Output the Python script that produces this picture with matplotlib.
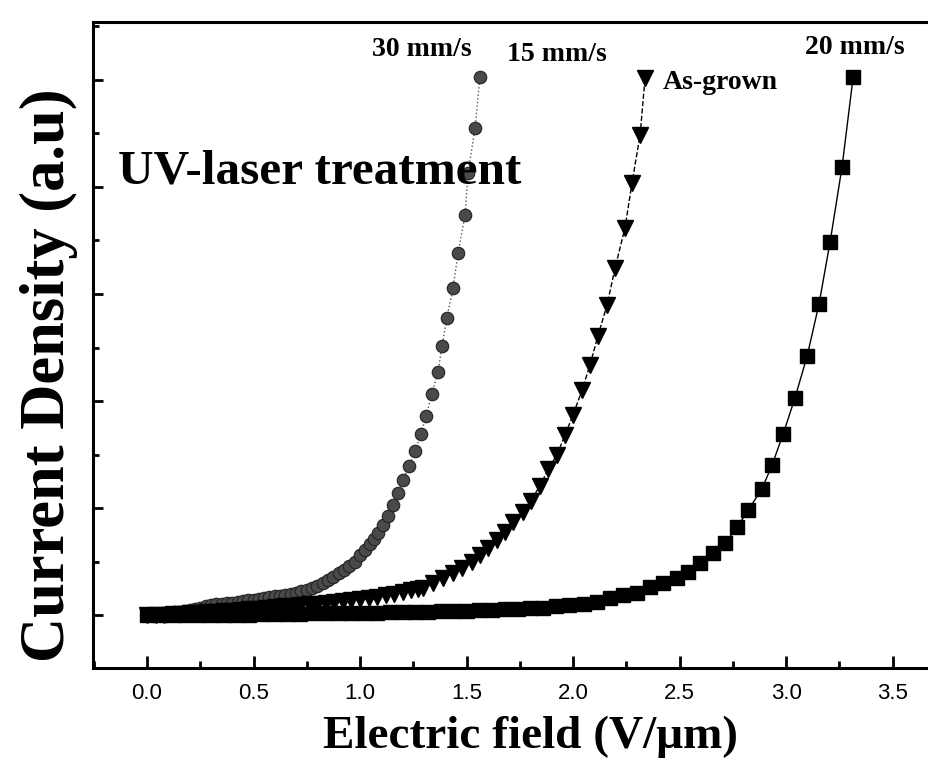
import matplotlib.pyplot as plt
from matplotlib.ticker import MultipleLocator

# 30 mm/s (circles)
circ_x = [0.0, 0.025, 0.05, 0.075, 0.1, 0.125, 0.15, 0.175, 0.2, 0.225, 0.25, 0.275,
          0.3, 0.325, 0.35, 0.375, 0.4, 0.425, 0.45, 0.475, 0.5, 0.525, 0.55, 0.575,
          0.6, 0.625, 0.65, 0.675, 0.7, 0.725, 0.75, 0.775, 0.8, 0.825, 0.85, 0.875,
          0.9, 0.925, 0.95, 0.975, 1.0, 1.023, 1.045, 1.065, 1.085, 1.108, 1.131,
          1.155, 1.178, 1.202, 1.23, 1.258, 1.286, 1.31, 1.338, 1.366, 1.385, 1.408,
          1.437, 1.46, 1.493, 1.507, 1.54, 1.563]
circ_y = [0.0, 0.005, 0.01, 0.015, 0.02, 0.025, 0.03, 0.04, 0.05, 0.06, 0.07, 0.08,
          0.09, 0.10, 0.105, 0.11, 0.115, 0.12, 0.13, 0.14, 0.145, 0.15, 0.16, 0.17,
          0.175, 0.18, 0.19, 0.195, 0.205, 0.22, 0.235, 0.25, 0.27, 0.30, 0.33, 0.36,
          0.39, 0.42, 0.46, 0.50, 0.56, 0.61, 0.66, 0.71, 0.77, 0.84, 0.93,
          1.03, 1.14, 1.26, 1.39, 1.53, 1.69, 1.86, 2.07, 2.27, 2.51, 2.78,
          3.06, 3.38, 3.74, 4.13, 4.55, 5.03]

# As-grown (triangles)
tri_x = [0.0, 0.04, 0.08, 0.12, 0.16, 0.2, 0.24, 0.28, 0.32, 0.36, 0.4, 0.44, 0.48,
         0.52, 0.56, 0.6, 0.64, 0.68, 0.72, 0.76, 0.8, 0.84, 0.88, 0.92, 0.96, 1.0,
         1.04, 1.08, 1.12, 1.16, 1.2, 1.24, 1.27, 1.296, 1.343, 1.39, 1.437, 1.479,
         1.526, 1.563, 1.601, 1.643, 1.681, 1.718, 1.765, 1.803, 1.845, 1.883, 1.925,
         1.962, 2.0, 2.042, 2.08, 2.117, 2.16, 2.197, 2.244, 2.277, 2.315, 2.338]
tri_y = [0.0, 0.0, 0.005, 0.01, 0.01, 0.015, 0.02, 0.025, 0.03, 0.035, 0.04, 0.045, 0.055,
         0.06, 0.07, 0.075, 0.08, 0.085, 0.09, 0.10, 0.105, 0.11, 0.12, 0.13, 0.14, 0.15,
         0.16, 0.17, 0.185, 0.20, 0.215, 0.23, 0.24, 0.25, 0.30, 0.35, 0.39, 0.44,
         0.50, 0.56, 0.63, 0.70, 0.78, 0.87, 0.96, 1.07, 1.21, 1.36, 1.50,
         1.68, 1.87, 2.10, 2.34, 2.61, 2.90, 3.24, 3.62, 4.04, 4.49, 5.02]

# 20 mm/s (squares)
sq_x = [0.0, 0.06, 0.12, 0.18, 0.24, 0.3, 0.36, 0.42, 0.48, 0.54, 0.6, 0.66, 0.72,
        0.78, 0.84, 0.9, 0.96, 1.02, 1.08, 1.14, 1.2, 1.26, 1.32, 1.38, 1.44, 1.5,
        1.56, 1.62, 1.68, 1.74, 1.8, 1.86, 1.92, 1.98, 2.05, 2.113, 2.174, 2.235,
        2.3, 2.362, 2.423, 2.488, 2.54, 2.596, 2.657, 2.714, 2.77, 2.822, 2.887,
        2.934, 2.986, 3.042, 3.099, 3.155, 3.207, 3.263, 3.315]
sq_y = [0.0, 0.0, 0.0, 0.0, 0.0, 0.005, 0.005, 0.005, 0.005, 0.01, 0.01, 0.01, 0.01,
        0.015, 0.015, 0.015, 0.02, 0.02, 0.02, 0.025, 0.025, 0.03, 0.03, 0.035, 0.035, 0.04,
        0.045, 0.05, 0.055, 0.06, 0.065, 0.07, 0.08, 0.09, 0.10, 0.12, 0.16, 0.19,
        0.21, 0.26, 0.30, 0.35, 0.40, 0.49, 0.58, 0.67, 0.82, 0.98, 1.18,
        1.40, 1.69, 2.03, 2.42, 2.91, 3.49, 4.19, 5.03]

x_ticks = [0.0, 0.5, 1.0, 1.5, 2.0, 2.5, 3.0, 3.5]

serif = 'Liberation Serif'
W, H = 929, 763

fig = plt.figure(figsize=(9.29, 7.63), dpi=100)
ax = fig.add_axes([0.1001, 0.1245, 0.8999, 0.8467])


def px(x, y):
    # pixel position measured from the top-left of the image -> figure fraction
    return x / W, 1 - y / H


ax.plot(circ_x, circ_y, linestyle=':', color='#555555', linewidth=1,
        marker='o', markersize=9, markerfacecolor='#4a4a4a', markeredgecolor='#222222',
        markeredgewidth=0.8)
ax.plot(tri_x, tri_y, linestyle='--', color='black', linewidth=1,
        marker='v', markersize=12, markerfacecolor='black', markeredgecolor='black')
ax.plot(sq_x, sq_y, linestyle='-', color='black', linewidth=1,
        marker='s', markersize=9.5, markerfacecolor='black', markeredgecolor='black')

ax.set_xlim(-0.2535, 3.671)
ax.set_ylim(-0.495, 5.542)

ax.set_xticks(x_ticks)
ax.set_xticklabels([f'{v:.1f}' for v in x_ticks], fontfamily='Liberation Sans', fontsize=16)
ax.xaxis.set_minor_locator(MultipleLocator(0.25))
ax.yaxis.set_major_locator(MultipleLocator(1))
ax.yaxis.set_minor_locator(MultipleLocator(0.5))
ax.set_yticklabels([])
ax.tick_params(axis='x', which='major', direction='in', length=9, width=2, pad=11)
ax.tick_params(axis='x', which='minor', direction='in', length=5, width=2)
ax.tick_params(axis='y', which='major', direction='in', length=7, width=2)
ax.tick_params(axis='y', which='minor', direction='in', length=4, width=2)

for side in ['left', 'bottom', 'top']:
    ax.spines[side].set_linewidth(2.2)
ax.spines['right'].set_visible(False)

fig.text(*px(531, 748), 'Electric field (V/\u03bcm)', fontfamily=serif, fontweight='bold',
         fontsize=34, ha='center', va='baseline')
fig.text(*px(49, 375), 'Current Density (a.u)', fontfamily=serif, fontweight='bold',
         fontsize=45, rotation=90, ha='center', va='center')

fig.text(*px(118, 172), 'UV-laser treatment', fontfamily=serif,
         fontweight='bold', fontsize=35.5, ha='left', va='center')

# series labels
fig.text(*px(422, 56), '30 mm/s', fontfamily=serif, fontweight='bold', fontsize=20,
         ha='center', va='baseline')
fig.text(*px(557, 61), '15 mm/s', fontfamily=serif, fontweight='bold', fontsize=20,
         ha='center', va='baseline')
fig.text(*px(855, 54), '20 mm/s', fontfamily=serif, fontweight='bold', fontsize=20,
         ha='center', va='baseline')
fig.text(*px(663, 89), 'As-grown', fontfamily=serif, fontweight='bold', fontsize=20,
         ha='left', va='baseline')

fig.savefig('out.png', dpi=100)
